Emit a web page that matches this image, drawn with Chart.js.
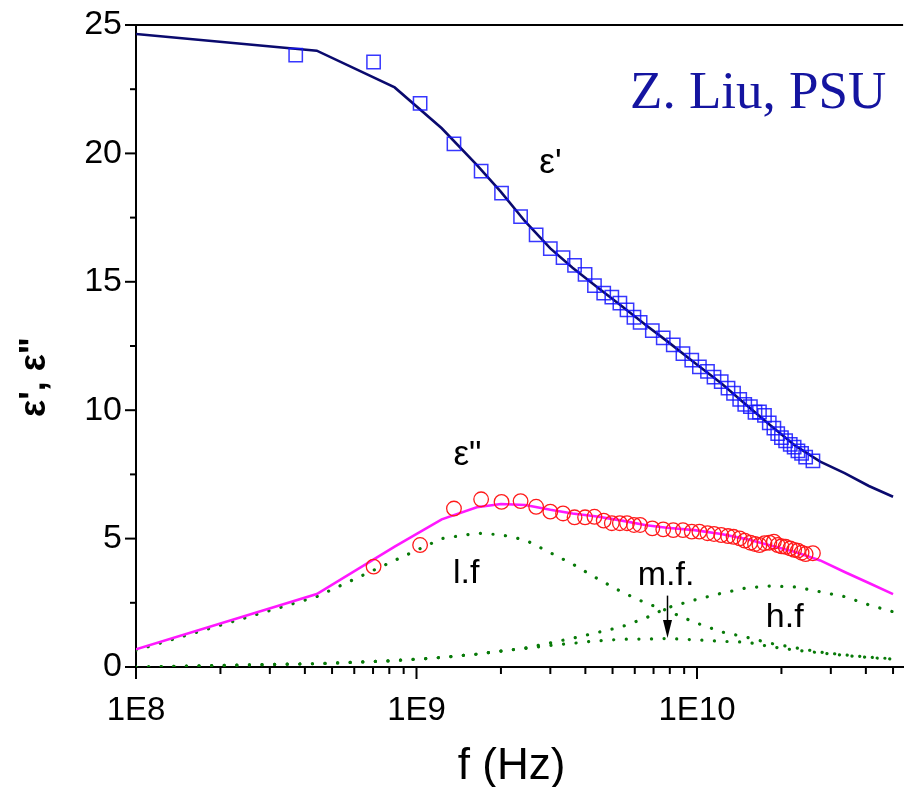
<!DOCTYPE html>
<html>
<head>
<meta charset="utf-8">
<script src="https://cdn.jsdelivr.net/npm/chart.js@4"></script>
<style>
  html, body { margin: 0; padding: 0; background: #fff; overflow: hidden; }
  canvas { display: block; }
</style>
</head>
<body>
<canvas id="dielectricChart" width="914" height="787"></canvas>
<script>
// measured frequencies (Hz)
const freq = [
    3.71e8, 7.03e8, 1.03e9, 1.36e9, 1.70e9, 2.01e9, 2.35e9, 2.67e9, 3.00e9, 3.33e9,
    3.66e9, 3.99e9, 4.31e9, 4.65e9, 4.97e9, 5.31e9, 5.63e9, 5.96e9, 6.27e9, 6.93e9,
    7.58e9, 8.23e9, 8.91e9, 9.58e9, 1.02e10, 1.09e10, 1.15e10, 1.22e10, 1.29e10, 1.35e10,
    1.42e10, 1.48e10, 1.55e10, 1.61e10, 1.67e10, 1.74e10, 1.81e10, 1.88e10, 1.94e10, 2.00e10,
    2.07e10, 2.15e10, 2.22e10, 2.29e10, 2.36e10, 2.44e10, 2.59e10
];
// measured eps' (squares)
const epsReal = [
    23.83, 23.56, 21.95, 20.37, 19.31, 18.45, 17.54, 16.83, 16.29, 15.94,
    15.64, 15.29, 14.85, 14.56, 14.40, 14.17, 13.91, 13.62, 13.42, 13.10,
    12.82, 12.54, 12.20, 11.95, 11.69, 11.51, 11.29, 11.11, 10.86, 10.66,
    10.42, 10.23, 10.14, 9.92, 9.93, 9.80, 9.51, 9.30, 9.09, 8.93,
    8.81, 8.67, 8.56, 8.42, 8.32, 8.17, 8.03
];
// measured eps'' (circles)
const epsImag = [
    null, 3.91, 4.75, 6.17, 6.53, 6.43, 6.46, 6.24, 6.05, 5.98,
    5.83, 5.83, 5.85, 5.70, 5.60, 5.60, 5.60, 5.53, 5.53, 5.40,
    5.36, 5.33, 5.33, 5.27, 5.27, 5.21, 5.18, 5.14, 5.10, 5.07,
    5.01, 4.92, 4.84, 4.79, 4.75, 4.82, 4.84, 4.88, 4.75, 4.70,
    4.68, 4.62, 4.56, 4.53, 4.45, 4.40, 4.43
];

// fit curves
const fitFreq = [
    1e8, 4.41e8, 8.36e8, 1.23e9, 1.64e9, 2.0e9, 2.44e9, 3.0e9, 3.6e9, 4.4e9, 5.4e9,
    6.6e9, 7.8e9, 9.8e9, 1.22e10, 1.5e10, 1.83e10, 2.24e10, 2.75e10, 3.36e10, 4.1e10, 5e10
];
const fitReal = [
    24.65, 24.00, 22.57, 20.98, 19.55, 18.50, 17.35, 16.30, 15.55, 14.80, 14.05,
    13.30, 12.70, 11.85, 11.05, 10.20, 9.40, 8.62, 8.00, 7.55, 7.05, 6.63
];
const fitImag = [
    0.69, 2.84, 4.69, 5.75, 6.22, 6.35, 6.31, 6.12, 5.98, 5.86, 5.70,
    5.52, 5.42, 5.33, 5.18, 4.98, 4.73, 4.48, 4.15, 3.70, 3.27, 2.84
];
const lowF = [
    0.65, 2.74, 4.15, 5.00, 5.21, 5.15, 4.95, 4.45, 4.01, 3.45, 2.92,
    2.48, 2.20, 1.74, 1.37, 1.16, 0.92, 0.75, 0.58, 0.47, 0.38, 0.32
];
const midF = [
    0.00, 0.13, 0.25, 0.37, 0.50, 0.62, 0.72, 0.84, 0.92, 1.02, 1.08,
    1.09, 1.11, 1.06, 1.00, 0.97, 0.79, 0.66, 0.55, 0.45, 0.37, 0.31
];
const highF = [
    0.00, 0.13, 0.25, 0.37, 0.50, 0.62, 0.74, 0.94, 1.12, 1.34, 1.57,
    1.92, 2.30, 2.61, 2.87, 3.08, 3.15, 3.12, 2.93, 2.74, 2.42, 2.15
];

const decadeLabels = { 1e8: "1E8", 1e9: "1E9", 1e10: "1E10" };

const pts = (xs, ys) => xs.map((x, i) => ({ x: x, y: ys[i] })).filter(p => p.y !== null);

const notes = [
    { text: "Z. Liu, PSU", f: 5.77e9, v: 21.77, font: "53px 'Liberation Serif'", color: "#1414a0" },
    { text: "\u03b5'", f: 2.74e9, v: 19.24, font: "35px 'Liberation Sans'", color: "#000" },
    { text: "\u03b5\"", f: 1.355e9, v: 7.87, font: "35px 'Liberation Sans'", color: "#000" },
    { text: "l.f", f: 1.35e9, v: 3.27, font: "34px 'Liberation Sans'", color: "#000" },
    { text: "m.f.", f: 6.15e9, v: 3.19, font: "34px 'Liberation Sans'", color: "#000" },
    { text: "h.f", f: 1.76e10, v: 1.56, font: "34px 'Liberation Sans'", color: "#000" }
];
const arrow = { f: 7.85e9, from: 2.78, to: 1.13 };

const extras = {
    id: "extras",
    afterDraw(chart) {
        const ctx = chart.ctx;
        const area = chart.chartArea;
        const xs = chart.scales.x;
        const ys = chart.scales.y;
        ctx.save();
        ctx.strokeStyle = "#000";
        ctx.lineWidth = 2;
        // top frame
        ctx.beginPath();
        ctx.moveTo(area.left - 1, area.top);
        ctx.lineTo(area.right, area.top);
        ctx.stroke();
        // y ticks
        ys.ticks.forEach(t => {
            const y = ys.getPixelForValue(t.value);
            const len = t.value % 5 === 0 ? 11 : 6;
            ctx.beginPath();
            ctx.moveTo(area.left - len, y);
            ctx.lineTo(area.left, y);
            ctx.stroke();
        });
        // x ticks
        xs.ticks.forEach(t => {
            const x = xs.getPixelForValue(t.value);
            const len = decadeLabels[t.value] ? 12 : 7;
            ctx.beginPath();
            ctx.moveTo(x, area.bottom);
            ctx.lineTo(x, area.bottom + len);
            ctx.stroke();
        });
        // axis titles
        ctx.fillStyle = "#000";
        ctx.textAlign = "center";
        ctx.textBaseline = "middle";
        ctx.font = "44px 'Liberation Sans'";
        ctx.fillText("f (Hz)", (area.left + area.right) / 2 - 8, 767);
        ctx.save();
        ctx.translate(35, 377);
        ctx.rotate(-Math.PI / 2);
        ctx.font = "bold 36px 'Liberation Sans'";
        ctx.fillText("\u03b5', \u03b5\"", 0, 0);
        ctx.restore();
        // annotations
        ctx.textAlign = "left";
        ctx.textBaseline = "alphabetic";
        notes.forEach(n => {
            ctx.font = n.font;
            ctx.fillStyle = n.color;
            ctx.fillText(n.text, xs.getPixelForValue(n.f), ys.getPixelForValue(n.v));
        });
        // arrow
        const ax = xs.getPixelForValue(arrow.f);
        const a0 = ys.getPixelForValue(arrow.from);
        const a1 = ys.getPixelForValue(arrow.to);
        ctx.lineWidth = 1.5;
        ctx.beginPath();
        ctx.moveTo(ax, a0);
        ctx.lineTo(ax, a1 - 14);
        ctx.stroke();
        ctx.fillStyle = "#000";
        ctx.beginPath();
        ctx.moveTo(ax - 4.5, a1 - 18);
        ctx.lineTo(ax + 4.5, a1 - 18);
        ctx.lineTo(ax, a1);
        ctx.closePath();
        ctx.fill();
        ctx.restore();
    }
};

const dotted = {
    borderColor: "#087a08",
    borderWidth: 3.2,
    borderDash: [0.1, 12.5],
    borderCapStyle: "round",
    pointRadius: 0,
    showLine: true,
    fill: false
};

const config = {
    type: "scatter",
    data: {
        datasets: [
            {
                label: "eps' data",
                data: pts(freq, epsReal),
                pointStyle: "rect",
                pointRadius: 9.4,
                borderColor: "rgba(20,20,255,0.85)",
                backgroundColor: "transparent",
                borderWidth: 1.5,
                showLine: false
            },
            {
                label: "eps'' data",
                data: pts(freq, epsImag),
                pointStyle: "circle",
                pointRadius: 7.3,
                borderColor: "#ff1a1a",
                backgroundColor: "transparent",
                borderWidth: 1.3,
                showLine: false
            },
            {
                label: "eps' fit",
                data: pts(fitFreq, fitReal),
                borderColor: "#0a0a6e",
                borderWidth: 2.6,
                pointRadius: 0,
                showLine: true,
                tension: 0
            },
            {
                label: "eps'' fit",
                data: pts(fitFreq, fitImag),
                borderColor: "#ff18ff",
                borderWidth: 2.6,
                pointRadius: 0,
                showLine: true,
                tension: 0
            },
            Object.assign({ label: "l.f", data: pts(fitFreq, lowF) }, dotted),
            Object.assign({ label: "m.f.", data: pts(fitFreq, midF) }, dotted),
            Object.assign({ label: "h.f", data: pts(fitFreq, highF) }, dotted)
        ]
    },
    options: {
        responsive: false,
        animation: false,
        layout: { padding: { top: 25, right: 0, left: 0, bottom: 0 } },
        plugins: {
            legend: { display: false },
            tooltip: { enabled: false }
        },
        scales: {
            x: {
                type: "logarithmic",
                min: 1e8,
                max: 5.43e10,
                afterFit: s => { s.height = 120; },
                afterBuildTicks: s => {
                    s.ticks = s.ticks.filter(t => {
                        const m = t.value / Math.pow(10, Math.floor(Math.log10(t.value) + 1e-9));
                        return Math.abs(m - Math.round(m)) < 1e-6;
                    });
                },
                // long (hidden) tick space + small padding keeps the right edge free of label padding
                grid: { display: false, drawTicks: true, tickLength: 22 },
                border: { display: true, color: "#000", width: 2 },
                ticks: {
                    autoSkip: false,
                    maxRotation: 0,
                    padding: 2,
                    color: "#000",
                    font: { family: "'Liberation Sans'", size: 33 },
                    callback: v => decadeLabels[v] || ""
                }
            },
            y: {
                min: 0,
                max: 25,
                afterFit: s => { s.width = 136; },
                grid: { display: false, drawTicks: true, tickLength: 10 },
                border: { display: true, color: "#000", width: 2 },
                ticks: {
                    stepSize: 2.5,
                    autoSkip: false,
                    padding: 4,
                    color: "#000",
                    font: { family: "'Liberation Sans'", size: 34 },
                    callback: v => (v % 5 === 0 ? String(v) : "")
                }
            }
        }
    },
    plugins: [extras]
};

new Chart(document.getElementById("dielectricChart"), config);
</script>
</body>
</html>
